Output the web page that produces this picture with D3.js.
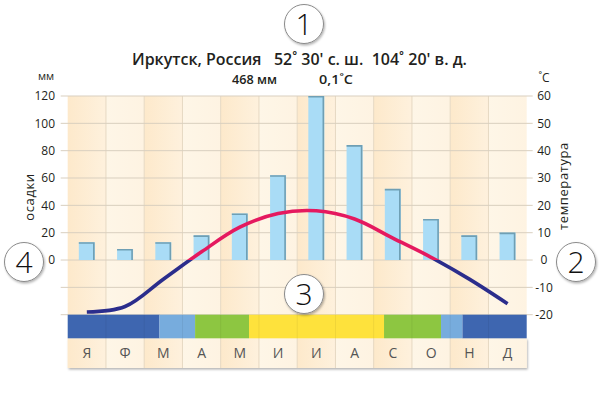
<!DOCTYPE html>
<html>
<head>
<meta charset="utf-8">
<script src="https://cdn.jsdelivr.net/npm/d3@7"></script>
<style>
  body { margin: 0; background: #fff; }
  svg { display: block; font-family: "Open Sans", "Noto Sans", sans-serif; }
</style>
</head>
<body>
<div id="chart"></div>
<script>
var months = ['Я', 'Ф', 'М', 'А', 'М', 'И', 'И', 'А', 'С', 'О', 'Н', 'Д'];
var precip = [13, 8, 13, 18, 34, 62, 120, 84, 52, 30, 18, 20];
var temp = [-19, -17, -7, 3, 12, 17, 18, 15, 8, 1, -7, -16];
var precipTicks = [0, 20, 40, 60, 80, 100, 120];
var tempTicks = [-20, -10, 0, 10, 20, 30, 40, 50, 60];
// season bands, in months from the start of January
var seasonStart = [0, 2.4, 3.33, 4.74, 8.27, 9.76, 10.32];
var seasonEnd = [2.4, 3.33, 4.74, 8.27, 9.76, 10.32, 12];
var seasonType = ['зима', 'весна', 'лето1', 'лето', 'лето1', 'весна', 'зима'];

var width = 600,
  height = 397;

var plotL = 67.7, plotR = 526.7, plotT = 96, plotB = 314.7;

var svg = d3.select('#chart').append('svg')
  .attr('width', width)
  .attr('height', height);

var defs = svg.append('defs');

var gDark = defs.append('linearGradient').attr('id', 'colDark')
gDark.append('stop').attr('offset', '0%').attr('stop-color', '#fde9cb');
gDark.append('stop').attr('offset', '100%').attr('stop-color', '#fef1dd');
var gLight = defs.append('linearGradient').attr('id', 'colLight')
gLight.append('stop').attr('offset', '0%').attr('stop-color', '#fef6e7');
gLight.append('stop').attr('offset', '100%').attr('stop-color', '#fef3e2');

var shadow = defs.append('filter').attr('id', 'shadow')
  .attr('x', '-20%').attr('y', '-20%').attr('width', '150%').attr('height', '150%');
shadow.append('feDropShadow').attr('dx', 1).attr('dy', 1.5).attr('stdDeviation', 1.2)
  .attr('flood-color', '#000').attr('flood-opacity', 0.3);

var x = d3.scaleBand()
  .domain(d3.range(12))
  .range([plotL, plotR])
  .padding(0);

var xm = d3.scaleLinear()
  .domain([0, 12])
  .range([plotL, plotR]);

var yP = d3.scaleLinear()
  .domain([-40, 120])
  .range([plotB, plotT]);

var yT = d3.scaleLinear()
  .domain([-20, 60])
  .range([plotB, plotT]);

var seasonColor = d3.scaleOrdinal()
  .domain(['зима', 'весна', 'лето1', 'лето'])
  .range(['#3e66b0', '#77acdd', '#8dc641', '#fee23c']);

defs.append('clipPath').attr('id', 'above')
  .append('rect').attr('x', 0).attr('y', 0).attr('width', width).attr('height', yT(0));
defs.append('clipPath').attr('id', 'below')
  .append('rect').attr('x', 0).attr('y', yT(0)).attr('width', width).attr('height', height);

// column backgrounds
svg.selectAll('.col')
  .data(months)
  .enter().append('rect').classed('col', true)
  .attr('x', function(d, i) { return x(i); })
  .attr('y', plotT)
  .attr('width', x.bandwidth())
  .attr('height', plotB - plotT)
  .attr('fill', function(d, i) { return i % 2 == 0 ? 'url(#colDark)' : 'url(#colLight)'; });

// month label row
var labelTop = 338.3, labelBottom = 368;
svg.append('rect')
  .attr('x', plotL)
  .attr('y', labelTop)
  .attr('width', plotR - plotL)
  .attr('height', labelBottom - labelTop)
  .attr('fill', '#fdf0dc')
  .attr('filter', 'url(#shadow)');

svg.selectAll('.lcol')
  .data(months)
  .enter().append('rect').classed('lcol', true)
  .attr('x', function(d, i) { return x(i); })
  .attr('y', labelTop)
  .attr('width', x.bandwidth())
  .attr('height', labelBottom - labelTop)
  .attr('fill', function(d, i) { return i % 2 == 0 ? 'url(#colDark)' : 'url(#colLight)'; });

// vertical dividers
svg.selectAll('.vline')
  .data(d3.range(1, 12))
  .enter().append('line').classed('vline', true)
  .attr('x1', function(d) { return x(d); })
  .attr('x2', function(d) { return x(d); })
  .attr('y1', plotT)
  .attr('y2', labelBottom)
  .attr('stroke', '#e6d8c2')
  .attr('stroke-width', 1);

// horizontal grid (with ticks sticking out on both sides)
var gridVals = d3.range(-40, 121, 20);
svg.selectAll('.hline')
  .data(gridVals)
  .enter().append('line').classed('hline', true)
  .attr('x1', plotL - 7)
  .attr('x2', plotR + 6)
  .attr('y1', function(d) { return yP(d); })
  .attr('y2', function(d) { return yP(d); })
  .attr('stroke', '#d9cfbf')
  .attr('stroke-width', 1);

// left axis labels
svg.selectAll('.ptick')
  .data(precipTicks)
  .enter().append('text').classed('ptick', true)
  .attr('x', 55)
  .attr('y', function(d) { return yP(d); })
  .attr('dy', '0.35em')
  .attr('text-anchor', 'end')
  .attr('font-size', 12)
  .attr('fill', '#231f20')
  .text(function(d) { return d; });

// right axis labels
svg.selectAll('.ttick')
  .data(tempTicks)
  .enter().append('text').classed('ttick', true)
  .attr('x', 544)
  .attr('y', function(d) { return yT(d); })
  .attr('dy', '0.35em')
  .attr('text-anchor', 'middle')
  .attr('font-size', 12)
  .attr('fill', '#231f20')
  .text(function(d) { return d; });

svg.append('text')
  .attr('x', 46).attr('y', 80)
  .attr('text-anchor', 'middle')
  .attr('font-size', 11)
  .attr('fill', '#231f20')
  .text('мм');

svg.append('text')
  .attr('x', 544).attr('y', 82)
  .attr('text-anchor', 'middle')
  .attr('font-size', 12)
  .attr('fill', '#231f20')
  .text('˚C');

svg.append('text')
  .attr('transform', 'translate(34,197) rotate(-90)')
  .attr('text-anchor', 'middle')
  .attr('font-size', 13)
  .attr('letter-spacing', 0.6)
  .attr('fill', '#231f20')
  .text('осадки');

svg.append('text')
  .attr('transform', 'translate(568,186) rotate(-90)')
  .attr('text-anchor', 'middle')
  .attr('font-size', 13)
  .attr('letter-spacing', 0.6)
  .attr('fill', '#231f20')
  .text('температура');

// precipitation bars
var barW = 16;
svg.selectAll('.bar')
  .data(precip)
  .enter().append('rect').classed('bar', true)
  .attr('x', function(d, i) { return x(i) + x.bandwidth() / 2 - barW / 2; })
  .attr('y', function(d) { return yP(d); })
  .attr('width', barW)
  .attr('height', function(d) { return yP(0) - yP(d); })
  .attr('fill', '#a9dcf6');

svg.selectAll('.barEdge')
  .data(precip)
  .enter().append('path').classed('barEdge', true)
  .attr('d', function(d, i) {
    var x0 = x(i) + x.bandwidth() / 2 - barW / 2;
    return 'M' + x0 + ',' + (yP(d) + 0.7) + 'H' + (x0 + barW - 1) + 'V' + yP(0);
  })
  .attr('fill', 'none')
  .attr('stroke', '#6f9fb4')
  .attr('stroke-width', 1.6);

// season bar
svg.selectAll('.season')
  .data(seasonStart)
  .enter().append('rect').classed('season', true)
  .attr('x', function(d) { return xm(d); })
  .attr('y', plotB)
  .attr('width', function(d, i) { return xm(seasonEnd[i]) - xm(d); })
  .attr('height', labelTop - plotB)
  .attr('fill', function(d, i) { return seasonColor(seasonType[i]); });

svg.selectAll('.sline')
  .data(d3.range(1, 12))
  .enter().append('line').classed('sline', true)
  .attr('x1', function(d) { return x(d); })
  .attr('x2', function(d) { return x(d); })
  .attr('y1', plotB)
  .attr('y2', labelTop)
  .attr('stroke', 'rgba(0,0,0,0.06)');

// month labels
svg.selectAll('.month')
  .data(months)
  .enter().append('text').classed('month', true)
  .attr('x', function(d, i) { return x(i) + x.bandwidth() / 2; })
  .attr('y', 358)
  .attr('text-anchor', 'middle')
  .attr('font-size', 14)
  .attr('fill', '#555')
  .text(function(d) { return d; });

// temperature line, red above zero and dark blue below
var line = d3.line()
  .x(function(d, i) { return x(i) + x.bandwidth() / 2; })
  .y(function(d) { return yT(d); })
  .curve(d3.curveCatmullRom.alpha(0.5));

svg.append('path')
  .datum(temp)
  .attr('d', line)
  .attr('fill', 'none')
  .attr('stroke', '#e5195f')
  .attr('stroke-width', 3.6)
  .attr('clip-path', 'url(#above)');

svg.append('path')
  .datum(temp)
  .attr('d', line)
  .attr('fill', 'none')
  .attr('stroke', '#2b2d8c')
  .attr('stroke-width', 3.6)
  .attr('clip-path', 'url(#below)');

// title
svg.append('text')
  .attr('x', 132).attr('y', 65)
  .attr('font-size', 15.5)
  .attr('font-weight', 600)
  .attr('fill', '#231f20')
  .attr('textLength', 335)
  .attr('lengthAdjust', 'spacingAndGlyphs')
  .style('white-space', 'pre')
  .text('Иркутск, Россия   52˚ 30\' с. ш.  104˚ 20\' в. д.');

svg.append('text')
  .attr('x', 232).attr('y', 84)
  .attr('font-size', 13)
  .attr('font-weight', 600)
  .attr('fill', '#231f20')
  .attr('textLength', 45)
  .attr('lengthAdjust', 'spacingAndGlyphs')
  .text('468 мм');

svg.append('text')
  .attr('x', 319).attr('y', 84)
  .attr('font-size', 13)
  .attr('font-weight', 600)
  .attr('fill', '#231f20')
  .attr('textLength', 34)
  .attr('lengthAdjust', 'spacingAndGlyphs')
  .text('0,1˚C');

// numbered callouts
var callouts = [
  { n: '1', cx: 304, cy: 24 },
  { n: '2', cx: 576, cy: 262 },
  { n: '3', cx: 304, cy: 294 },
  { n: '4', cx: 24, cy: 262 }
];

var co = svg.selectAll('.callout')
  .data(callouts)
  .enter().append('g').classed('callout', true)
  .attr('transform', function(d) { return 'translate(' + d.cx + ',' + d.cy + ')'; });

co.append('circle')
  .attr('r', 19.5)
  .attr('fill', '#fff')
  .attr('stroke', '#8a8a8a')
  .attr('stroke-width', 1)
  .attr('filter', 'url(#shadow)');

co.append('text')
  .attr('text-anchor', 'middle')
  .attr('dy', '0.36em')
  .attr('font-size', 30)
  .attr('font-weight', 300)
  .attr('fill', '#111')
  .text(function(d) { return d.n; });
</script>
</body>
</html>
